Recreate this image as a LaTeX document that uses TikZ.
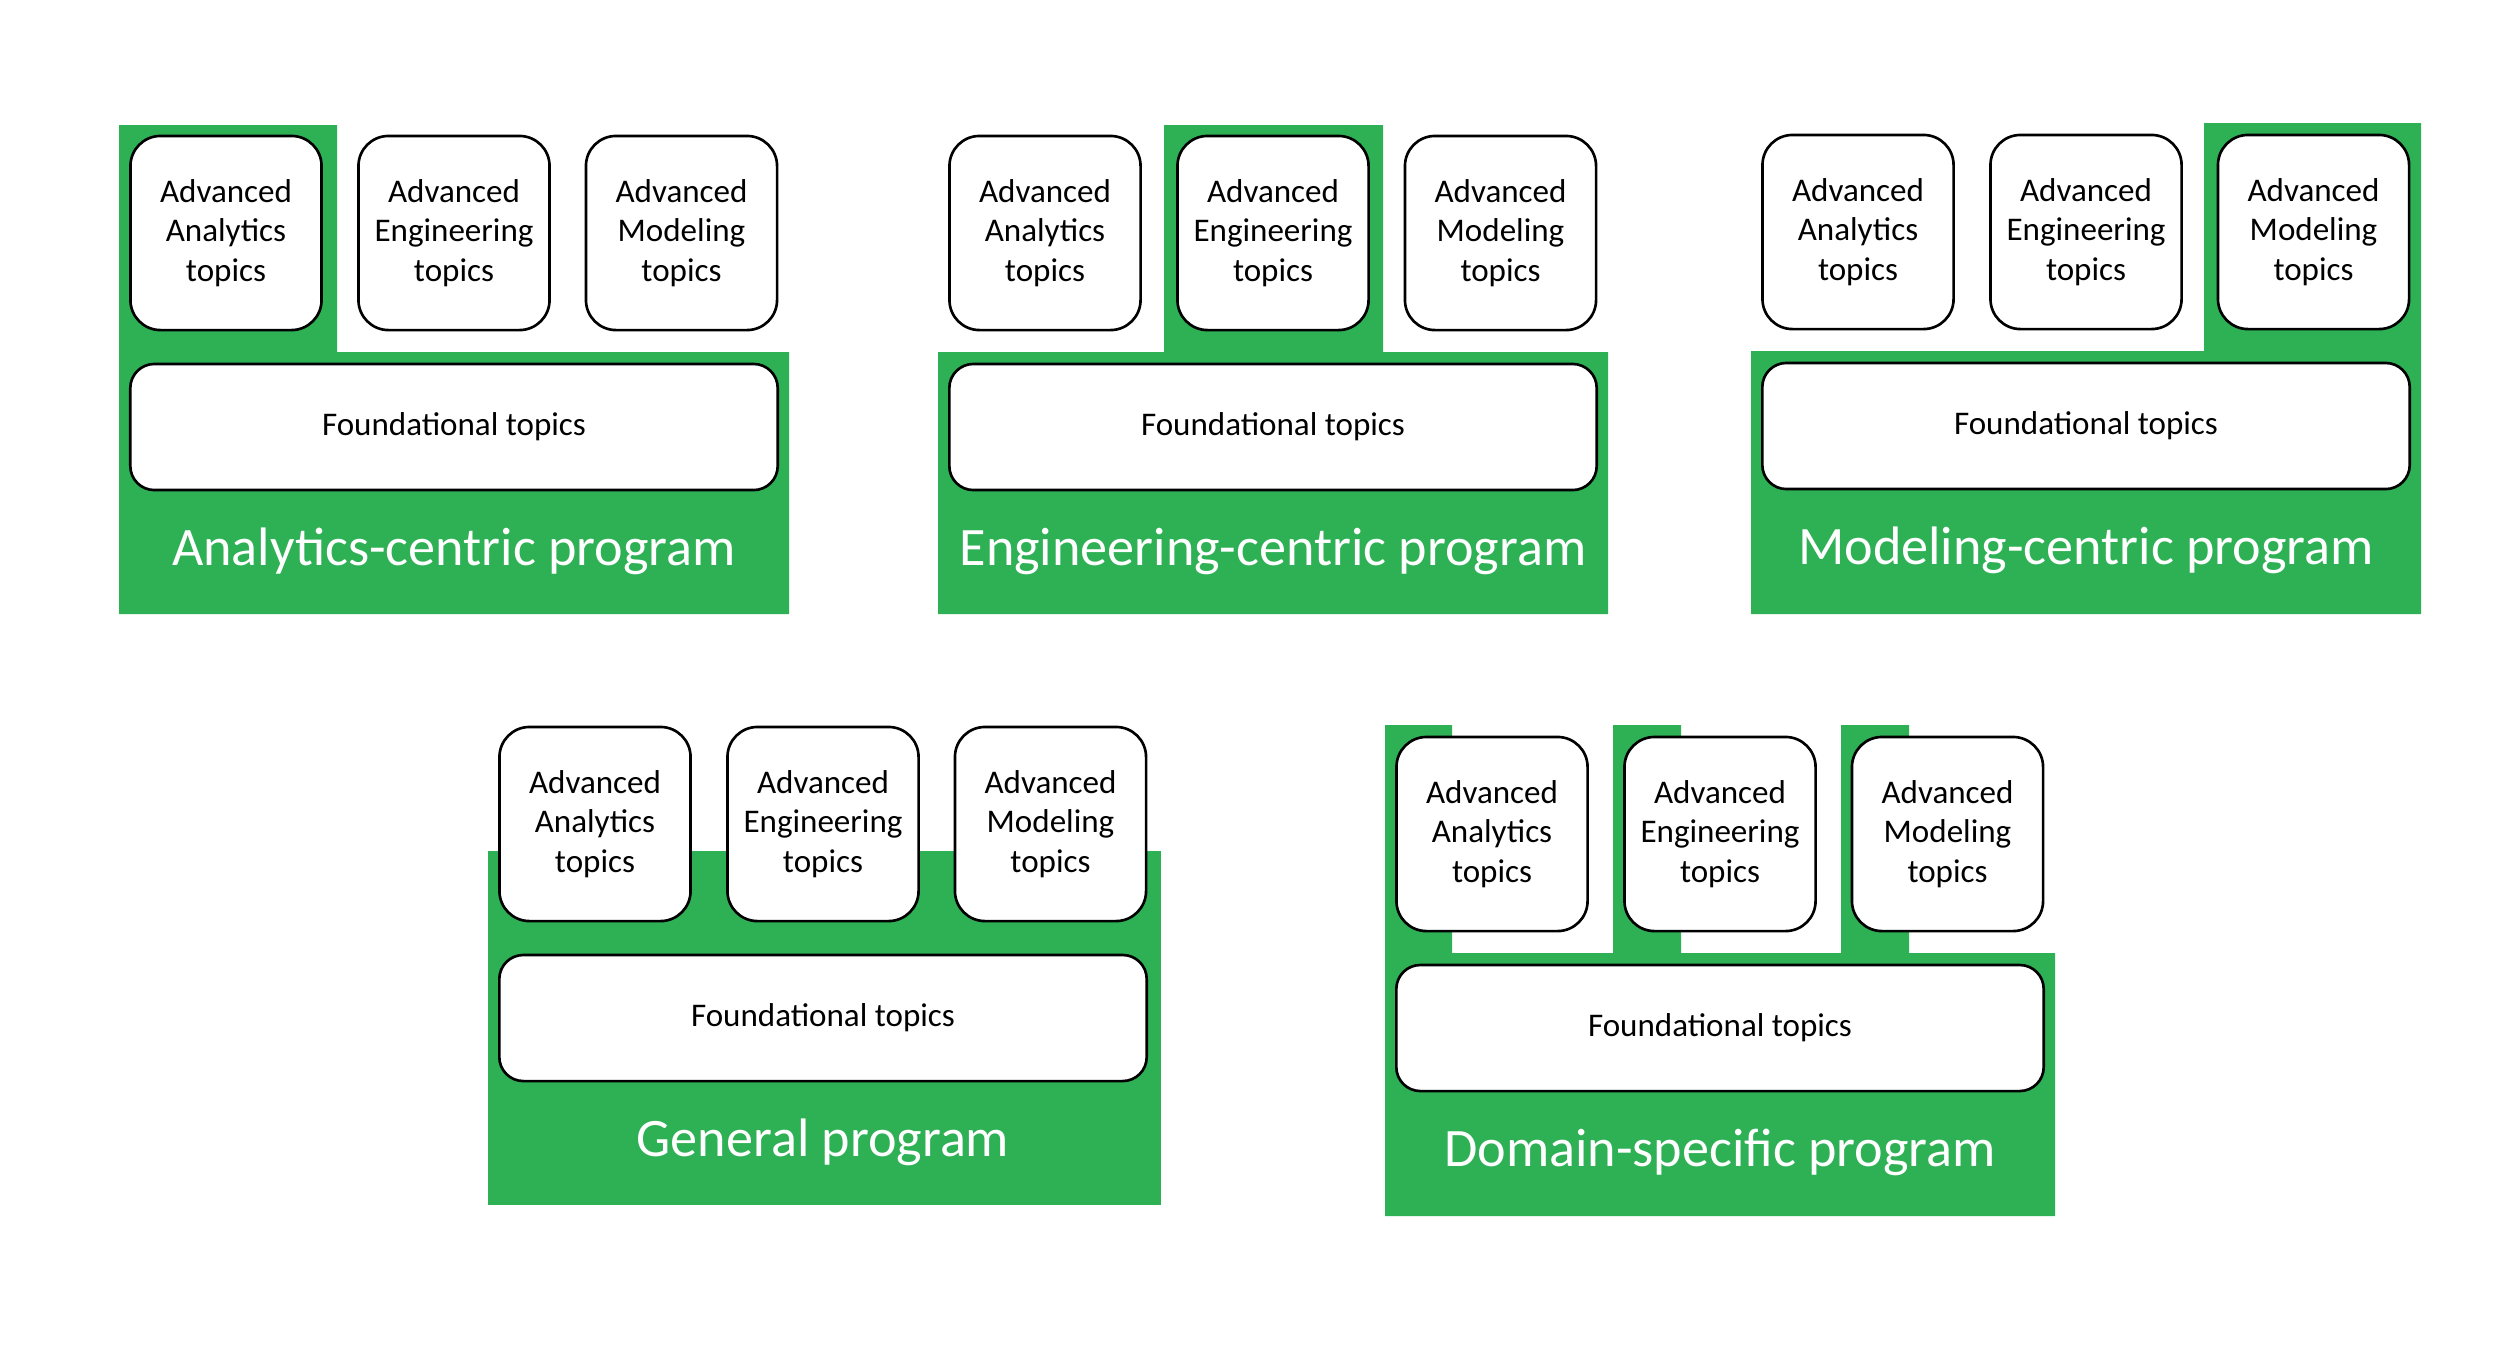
\documentclass[tikz,border=0pt]{standalone}
\usepackage{fontspec}
\setmainfont{Carlito}
\definecolor{pgreen}{RGB}{46,176,84}
\tikzset{
  topicbox/.style={draw=black, line width=0.75pt, fill=white, rounded corners=0.3cm,
    minimum width=1.91cm, minimum height=1.94cm, align=center, inner sep=0pt,
    font=\fontsize{9.4}{11.2}\selectfont},
  foundbox/.style={draw=black, line width=0.75pt, fill=white, rounded corners=0.24cm,
    minimum width=6.47cm, minimum height=1.26cm, align=center, inner sep=0pt,
    font=\fontsize{9.4}{11.2}\selectfont},
  progtitle/.style={text=white, inner sep=0pt, font=\fontsize{15.4}{18}\selectfont},
  greenbg/.style={fill=pgreen, draw=none}
}
\newcommand{\mytopics}[1]{%
  \node[topicbox] (a#1) at (226,233) {Advanced\\Analytics\\topics};
  \node[topicbox] (e#1) at (454,233) {Advanced\\Engineering\\topics};
  \node[topicbox] (m#1) at (681.5,233) {Advanced\\Modeling\\topics};
  \node[foundbox] (f#1) at (454,427) {Foundational topics};
}
\begin{document}
\begin{tikzpicture}[x=0.01cm,y=-0.01cm]
\useasboundingbox (0,0) rectangle (2504,1344);
% Panel 1: Analytics-centric
\begin{scope}
  \fill[greenbg] (119,125) -- (337,125) -- (337,352) -- (789,352) -- (789,614) -- (119,614) -- cycle;
  \mytopics{1}
  \node[progtitle] (t1) at (454,551) {Analytics-centric program};
\end{scope}
% Panel 2: Engineering-centric
\begin{scope}[shift={(819,0)}]
  \fill[greenbg] (119,352) -- (345,352) -- (345,125) -- (564,125) -- (564,352) -- (789,352) -- (789,614) -- (119,614) -- cycle;
  \mytopics{2}
  \node[progtitle] (t2) at (454,551) {Engineering-centric program};
\end{scope}
% Panel 3: Modeling-centric
\begin{scope}[shift={(1632,-1)}]
  \fill[greenbg] (119,352) -- (572,352) -- (572,124) -- (789,124) -- (789,615) -- (119,615) -- cycle;
  \mytopics{3}
  \node[progtitle] (t3) at (454,551) {Modeling-centric program};
\end{scope}
% Panel 4: General
\begin{scope}[shift={(369,591)}]
  \fill[greenbg] (119,260) rectangle (792,614);
  \mytopics{4}
  \node[progtitle] (t4) at (454,551) {General program};
\end{scope}
% Panel 5: Domain-specific
\begin{scope}[shift={(1266,601)}]
  \fill[greenbg] (119,124) -- (186,124) -- (186,352) -- (347,352) -- (347,124) -- (415,124) -- (415,352)
    -- (575,352) -- (575,124) -- (643,124) -- (643,352) -- (789,352) -- (789,615) -- (119,615) -- cycle;
  \mytopics{5}
  \node[progtitle] (t5) at (454,551) {Domain-specific program};
\end{scope}
\end{tikzpicture}
\end{document}
